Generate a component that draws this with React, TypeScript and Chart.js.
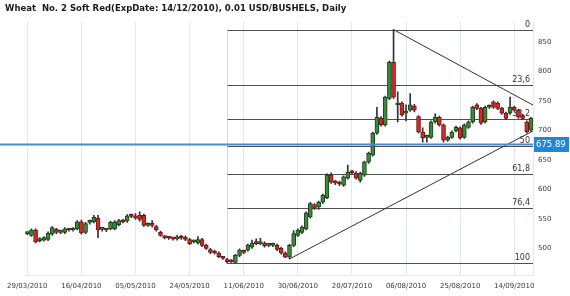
import React, { useEffect, useRef } from 'react';
import { Chart, registerables } from 'chart.js';

Chart.register(...registerables);

const TITLE = 'Wheat  No. 2 Soft Red(ExpDate: 14/12/2010), 0.01 USD/BUSHELS, Daily';

const tickLabels = ['29/03/2010', '16/04/2010', '05/05/2010', '24/05/2010', '11/06/2010', '30/06/2010', '20/07/2010', '06/08/2010', '25/08/2010', '14/09/2010'];
const TICK_STEP = 13;

const opens = [
  525, 522, 531, 513, 514, 515, 524, 532, 527, 527, 532, 531, 533, 545, 527, 544, 545, 551, 532, 533,
  533, 533, 540, 546, 546, 555, 555, 556, 556, 539, 540, 537, 527, 519, 518, 517, 516, 518, 519, 515,
  511, 509, 515, 505, 498, 495, 492, 484, 481, 479, 476, 488, 494, 497, 502, 509, 508, 509, 505, 505,
  505, 500, 492, 485, 505, 522, 527, 533, 553, 574, 570, 578, 586, 624, 612, 612, 607, 619, 629, 627,
  615, 624, 646, 658, 695, 720, 709, 754, 815, 743, 746, 729, 734, 741, 723, 697, 688, 688, 714, 722,
  709, 683, 688, 699, 704, 688, 705, 714, 743, 737, 714, 739, 748, 746, 737, 729, 729, 739, 734, 725,
  714, 700,
];
const highs = [
  528, 533, 533, 518, 520, 528, 537, 534, 531, 535, 534, 535, 547, 548, 544, 548, 556, 556, 535, 534,
  546, 547, 549, 549, 557, 558, 559, 562, 558, 543, 547, 539, 529, 521, 519, 518, 522, 522, 521, 517,
  514, 520, 517, 507, 500, 497, 494, 486, 483, 481, 490, 499, 497, 507, 514, 516, 517, 511, 508, 509,
  507, 502, 494, 507, 530, 533, 538, 562, 578, 576, 580, 592, 626, 628, 615, 614, 623, 641, 632, 630,
  629, 648, 663, 697, 739, 723, 758, 817, 870.5, 765, 748, 743, 762, 744, 725, 704, 692, 716, 728, 724,
  711, 690, 699, 707, 706, 711, 716, 741, 745, 739, 741, 743, 750, 748, 739, 731, 756, 741, 736, 727,
  716, 722,
];
const lows = [
  523, 520, 509, 511, 512, 513, 522, 525, 525, 525, 529, 529, 531, 524, 525, 541, 543, 518, 529, 528,
  531, 531, 538, 543, 544, 552, 549, 546, 537, 537, 536, 529, 520, 516, 515, 514, 514, 515, 513, 506,
  509, 507, 503, 498, 491, 490, 484, 481, 475, 476, 475, 486, 491, 495, 500, 506, 506, 502, 503, 503,
  496, 490, 484, 482, 503, 520, 525, 531, 551, 566, 566, 576, 584, 610, 608, 606, 605, 617, 625, 617,
  612, 622, 644, 656, 693, 707, 707, 752, 754, 714, 724, 716, 732, 731, 695, 680, 680, 686, 712, 707,
  680, 681, 686, 697, 685, 686, 703, 712, 735, 710, 712, 737, 737, 735, 727, 718, 727, 732, 720, 718,
  695, 698,
];
const closes = [
  526, 531, 511, 515, 518, 526, 535, 527, 528, 533, 531, 533, 545, 526, 542, 546, 553, 531, 533, 531,
  544, 545, 547, 545, 555, 554, 551, 549, 539, 540, 539, 531, 522, 518, 517, 516, 519, 517, 515, 508,
  512, 515, 505, 500, 493, 492, 486, 483, 477, 477, 488, 497, 493, 505, 509, 508, 510, 504, 506, 507,
  498, 492, 485, 505, 525, 531, 536, 560, 576, 568, 578, 590, 624, 612, 611, 609, 621, 629, 628, 619,
  627, 646, 661, 695, 722, 709, 756, 815, 756, 745, 726, 731, 743, 734, 697, 687, 690, 714, 722, 709,
  683, 688, 697, 705, 687, 709, 714, 739, 737, 712, 739, 741, 739, 737, 729, 720, 739, 734, 722, 720,
  697, 720,
];

const yTicks = [500, 550, 600, 650, 700, 750, 800, 850];
const Y_MIN = 454.8;
const Y_MAX = 883.4;

const fibLevels = [0, 23.6, 38.2, 50, 61.8, 76.4, 100];
const fibLabels = ['0', '23,6', '38,2', '50', '61,8', '76,4', '100'];
const fibLow = { index: 48, value: 475.5 };
const fibHigh = { index: 88, value: 870.5 };

const trendDown = [[88, 870.5], [121, 744.5]];
const trendUp = [[63, 482], [121, 697]];

const lastPrice = 675.89;

const FONT = "'DejaVu Sans', Verdana, sans-serif";

const overlayPlugin = {
  id: 'overlay',
  beforeDatasetsDraw(chart: any) {
    const { ctx, chartArea, scales } = chart;
    const x = scales.x;
    const y = scales.y;
    ctx.save();
    const x0 = Math.round(x.getPixelForValue(fibLow.index)) + 0.5;
    ctx.strokeStyle = '#d3d9e0';
    ctx.lineWidth = 1;
    ctx.beginPath();
    ctx.moveTo(x0, y.getPixelForValue(fibHigh.value));
    ctx.lineTo(x0, y.getPixelForValue(fibLow.value));
    ctx.stroke();
    fibLevels.forEach((lv, k) => {
      const v = fibHigh.value - ((fibHigh.value - fibLow.value) * lv) / 100;
      const py = Math.round(y.getPixelForValue(v)) + 0.5;
      ctx.strokeStyle = '#505050';
      ctx.lineWidth = 1;
      ctx.beginPath();
      ctx.moveTo(x0, py);
      ctx.lineTo(chartArea.right, py);
      ctx.stroke();
      ctx.fillStyle = '#333333';
      ctx.font = `8px ${FONT}`;
      ctx.textAlign = 'right';
      ctx.textBaseline = 'bottom';
      ctx.fillText(fibLabels[k], chartArea.right - 3, py - 1.5);
    });
    [trendDown, trendUp].forEach((t) => {
      const x1 = x.getPixelForValue(t[0][0]);
      const y1 = y.getPixelForValue(t[0][1]);
      const x2 = x.getPixelForValue(t[1][0]);
      const y2 = y.getPixelForValue(t[1][1]);
      const xr = chartArea.right;
      const yr = y1 + ((y2 - y1) * (xr - x1)) / (x2 - x1);
      ctx.strokeStyle = '#333333';
      ctx.lineWidth = 1;
      ctx.beginPath();
      ctx.moveTo(x1, y1);
      ctx.lineTo(xr, yr);
      ctx.stroke();
    });
    ctx.restore();
  },
  afterDatasetsDraw(chart: any) {
    const { ctx, chartArea, scales } = chart;
    const y = scales.y;
    ctx.save();
    const py = y.getPixelForValue(lastPrice);
    ctx.strokeStyle = '#4f8ac6';
    ctx.lineWidth = 2;
    ctx.beginPath();
    ctx.moveTo(0, py);
    ctx.lineTo(chartArea.right, py);
    ctx.stroke();
    ctx.fillStyle = '#1e88d6';
    ctx.fillRect(chartArea.right + 1, py - 7.5, chart.width - chartArea.right - 2, 15);
    ctx.fillStyle = '#ffffff';
    ctx.font = `8.5px ${FONT}`;
    ctx.textAlign = 'left';
    ctx.textBaseline = 'middle';
    ctx.fillText(lastPrice.toFixed(2), chartArea.right + 3, py + 0.5);
    ctx.restore();
  },
  afterDraw(chart: any) {
    const { ctx } = chart;
    ctx.save();
    ctx.fillStyle = '#1a1a1a';
    ctx.font = `bold 8.5px ${FONT}`;
    ctx.textAlign = 'left';
    ctx.textBaseline = 'middle';
    ctx.fillText(TITLE, 5, 9);
    ctx.restore();
  },
};

export default function App() {
  const ref = useRef<HTMLCanvasElement>(null);
  useEffect(() => {
    document.body.style.margin = '0';
    const canvas = ref.current;
    if (!canvas) return;
    const labels = opens.map((_, i) => String(i));
    const up = opens.map((o, i) => closes[i] >= o);
    const chart = new Chart(canvas, {
      type: 'bar',
      data: {
        labels,
        datasets: [
          {
            data: opens.map((o, i) => [o, closes[i]]) as any,
            backgroundColor: up.map((u) => (u ? '#3b8a3b' : '#cf2a2c')),
            borderColor: up.map((u) => (u ? '#1c3f1c' : '#6e1616')),
            borderWidth: 1,
            borderSkipped: false,
            barThickness: 4,
            minBarLength: 2,
            grouped: false,
            order: 1,
          } as any,
          {
            data: lows.map((l, i) => [l, highs[i]]) as any,
            backgroundColor: '#333333',
            borderWidth: 0,
            barThickness: 1,
            grouped: false,
            order: 2,
          } as any,
        ],
      },
      options: {
        animation: false,
        responsive: false,
        maintainAspectRatio: false,
        layout: { padding: { left: 25, top: 22, right: 0, bottom: 0 } },
        plugins: {
          legend: { display: false },
          tooltip: { enabled: false },
          title: { display: false },
        },
        scales: {
          x: {
            type: 'category',
            offset: true,
            grid: {
              offset: false,
              drawTicks: false,
              color: (c: any) => (c.index % TICK_STEP === 0 ? '#e3e8ee' : 'rgba(0,0,0,0)'),
            },
            border: { color: '#e3e8ee' },
            ticks: {
              autoSkip: false,
              maxRotation: 0,
              minRotation: 0,
              padding: 7,
              color: '#3a3a3a',
              font: { family: FONT, size: 7 },
              callback: (_v: any, i: number) => (i % TICK_STEP === 0 ? tickLabels[i / TICK_STEP] : ''),
            },
            afterFit: (s: any) => {
              s.height = 21;
            },
          },
          y: {
            position: 'right',
            min: Y_MIN,
            max: Y_MAX,
            grid: { display: false, drawTicks: false },
            border: { display: true, color: '#e3e8ee' },
            ticks: {
              padding: 5,
              color: '#3a3a3a',
              font: { family: FONT, size: 7 },
            },
            afterBuildTicks: (s: any) => {
              s.ticks = yTicks.map((v) => ({ value: v }));
            },
            afterFit: (s: any) => {
              s.width = 37;
            },
          },
        },
      } as any,
      plugins: [overlayPlugin],
    });
    return () => chart.destroy();
  }, []);
  return (
    <div style={{ position: 'fixed', left: 0, top: 0, width: 570, height: 296, background: '#fff' }}>
      <canvas ref={ref} width={570} height={296} style={{ display: 'block' }} />
    </div>
  );
}
